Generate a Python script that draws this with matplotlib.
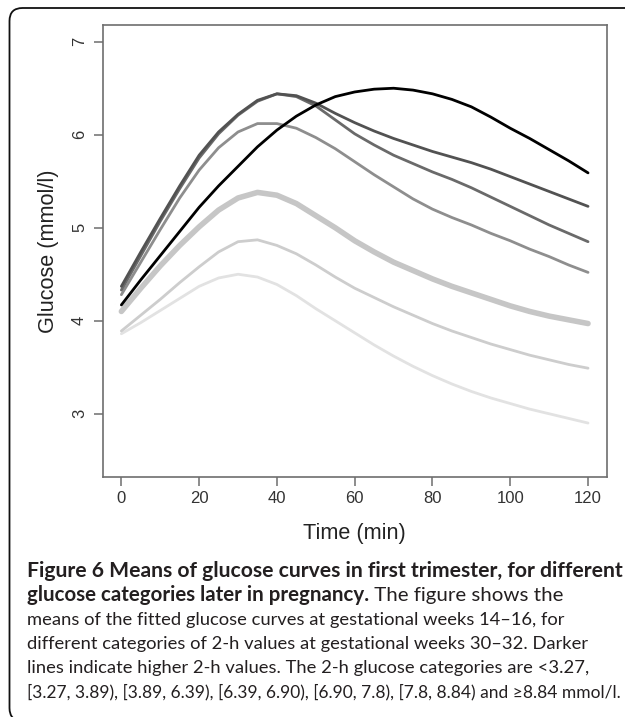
import matplotlib
matplotlib.use("Agg")
import matplotlib.pyplot as plt
from matplotlib.patches import FancyBboxPatch

# ---- data ----
time_min = [0, 5, 10, 15, 20, 25, 30, 35, 40, 45, 50, 55, 60, 65, 70, 75, 80, 85, 90, 95, 100, 105, 110, 115, 120]

glu_lt327 = [3.86, 3.98, 4.11, 4.24, 4.37, 4.46, 4.50, 4.47, 4.39, 4.27, 4.13, 4.00, 3.87, 3.74, 3.62, 3.51, 3.41, 3.32, 3.24, 3.17, 3.11, 3.05, 3.00, 2.95, 2.90]
glu_327_389 = [3.89, 4.06, 4.23, 4.41, 4.58, 4.74, 4.85, 4.87, 4.81, 4.72, 4.60, 4.47, 4.35, 4.25, 4.15, 4.06, 3.97, 3.89, 3.82, 3.75, 3.69, 3.63, 3.58, 3.53, 3.49]
glu_389_639 = [4.10, 4.35, 4.59, 4.81, 5.01, 5.19, 5.32, 5.38, 5.35, 5.26, 5.13, 5.00, 4.86, 4.74, 4.63, 4.54, 4.45, 4.37, 4.30, 4.23, 4.16, 4.10, 4.05, 4.01, 3.97]
glu_639_690 = [4.28, 4.63, 4.98, 5.32, 5.62, 5.86, 6.03, 6.12, 6.12, 6.07, 5.97, 5.85, 5.71, 5.57, 5.44, 5.31, 5.20, 5.11, 5.03, 4.94, 4.86, 4.77, 4.69, 4.60, 4.52]
glu_690_78 = [4.33, 4.70, 5.07, 5.42, 5.75, 6.01, 6.21, 6.36, 6.44, 6.41, 6.31, 6.16, 6.01, 5.89, 5.78, 5.69, 5.60, 5.52, 5.43, 5.33, 5.23, 5.13, 5.03, 4.94, 4.85]
glu_78_884 = [4.37, 4.74, 5.10, 5.45, 5.78, 6.03, 6.22, 6.37, 6.44, 6.42, 6.34, 6.23, 6.13, 6.04, 5.96, 5.89, 5.82, 5.76, 5.70, 5.63, 5.55, 5.47, 5.39, 5.31, 5.23]
glu_ge884 = [4.17, 4.44, 4.70, 4.96, 5.22, 5.45, 5.66, 5.87, 6.05, 6.20, 6.32, 6.41, 6.46, 6.49, 6.50, 6.48, 6.44, 6.38, 6.30, 6.19, 6.07, 5.96, 5.84, 5.72, 5.59]

x_ticks = [0, 20, 40, 60, 80, 100, 120]
y_ticks = [3, 4, 5, 6, 7]
x_label = "Time (min)"
y_label = "Glucose (mmol/l)"

caption_bold = ["Figure 6 Means of glucose curves in first trimester, for different",
                "glucose categories later in pregnancy."]
caption_rest_line2 = " The figure shows the"
caption_lines = ["means of the fitted glucose curves at gestational weeks 14\u201316, for",
                 "different categories of 2-h values at gestational weeks 30\u201332. Darker",
                 "lines indicate higher 2-h values. The 2-h glucose categories are <3.27,",
                 "[3.27, 3.89), [3.89, 6.39), [6.39, 6.90), [6.90, 7.8), [7.8, 8.84) and \u22658.84 mmol/l."]

series = [glu_lt327, glu_327_389, glu_389_639, glu_639_690, glu_690_78, glu_78_884, glu_ge884]
colors = ["#e2e2e2", "#cdcdcd", "#c6c6c6", "#8e8e8e", "#6a6a6a", "#525252", "#000000"]
widths = [2.0, 2.0, 4.0, 2.0, 2.0, 2.0, 2.0]

# ---- figure ----
W, H = 625, 717
fig = plt.figure(figsize=(W / 100, H / 100), dpi=100)
fig.patch.set_facecolor("white")

# outer rounded border (runs off the right/bottom edges like the reference)
border = FancyBboxPatch((9.5, -4), 660, 713, boxstyle="round,pad=0,rounding_size=13",
                        transform=None, facecolor="none", edgecolor="#111111", linewidth=1.3)
fig.patches.append(border)

ax_l, ax_r, ax_t, ax_b = 102.7, 606.7, 25.0, 477.0
ax = fig.add_axes([ax_l / W, 1 - ax_b / H, (ax_r - ax_l) / W, (ax_b - ax_t) / H])

for ys, c, lw in zip(series, colors, widths):
    ax.plot(time_min, ys, color=c, linewidth=lw, solid_capstyle="round", solid_joinstyle="round")

ax.set_xlim(-4.8, 124.8)
ax.set_ylim(2.32, 7.18)
ax.set_xticks(x_ticks)
ax.set_yticks(y_ticks)
ax.set_xticklabels([str(v) for v in x_ticks])
ax.set_yticklabels([str(v) for v in y_ticks], rotation=90, va="center")

for sp in ax.spines.values():
    sp.set_color("#6e6e6e")
    sp.set_linewidth(1.2)
ax.tick_params(axis="both", direction="out", length=6.3, width=1.1, color="#6e6e6e",
               labelsize=12, labelcolor="#333333")
ax.tick_params(axis="x", pad=4)
ax.tick_params(axis="y", pad=5)
for lab in ax.get_xticklabels() + ax.get_yticklabels():
    lab.set_family("Liberation Sans")

ax.set_xlabel(x_label, fontsize=15.6, family="Liberation Sans", color="#222222", labelpad=12)
ax.set_ylabel(y_label, fontsize=15.6, family="Liberation Sans", color="#222222", labelpad=9.5)

# ---- caption ----
cap_family = "Lato"
base_size = 12.0
x0 = 27.0
base1 = 577.0
step = 24.0
right_edges = [620, 561, 561, 584, 586, 616]
renderer = fig.canvas.get_renderer()

def put(x, ybase, s, size, weight="normal"):
    return fig.text(x / W, 1 - ybase / H, s, ha="left", va="baseline", family=cap_family,
                    fontsize=size, weight=weight, color="#231f20")

def width_of(t):
    return t.get_window_extent(renderer).width

# line 1 (bold)
t = put(x0, base1, caption_bold[0], base_size, "bold")
t.set_fontsize(base_size * (right_edges[0] - x0) / width_of(t))

# line 2 (bold + regular)
tb = put(x0, base1 + step, caption_bold[1], base_size, "bold")
tr = put(x0, base1 + step, caption_rest_line2, base_size)
s2 = base_size * (right_edges[1] - x0) / (width_of(tb) + width_of(tr))
tb.set_fontsize(s2)
tr.set_fontsize(s2)
tr.set_x((x0 + width_of(tb)) / W)

# remaining regular lines
for i, s in enumerate(caption_lines):
    t = put(x0, base1 + step * (i + 2), s, base_size)
    t.set_fontsize(base_size * (right_edges[i + 2] - x0) / width_of(t))

fig.savefig("out.png", dpi=100)
